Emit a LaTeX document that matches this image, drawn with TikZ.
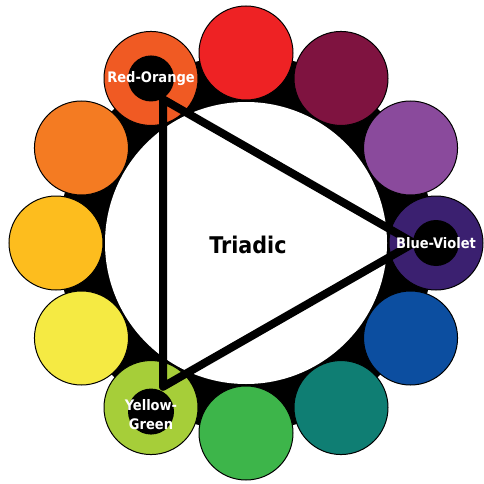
\documentclass[tikz,border=0pt]{standalone}
\usepackage{fontspec}
\setsansfont{DejaVu Sans Condensed}
\usepackage{tikz}
\usetikzlibrary{calc}
\definecolor{cred}{HTML}{EE2224}
\definecolor{credviolet}{HTML}{7F1340}
\definecolor{cviolet}{HTML}{8A4A9C}
\definecolor{cblueviolet}{HTML}{3B2070}
\definecolor{cblue}{HTML}{0C4EA0}
\definecolor{cbluegreen}{HTML}{0F7E73}
\definecolor{cgreen}{HTML}{3DB54A}
\definecolor{cyellowgreen}{HTML}{A6CE39}
\definecolor{cyellow}{HTML}{F5EA43}
\definecolor{cyelloworange}{HTML}{FDBD1E}
\definecolor{corange}{HTML}{F47B22}
\definecolor{credorange}{HTML}{F05A23}
\tikzset{
  hue/.style={circle,draw=black,line width=1pt,minimum size=94pt,inner sep=0pt},
  hole/.style={circle,fill=black,minimum size=46pt,inner sep=0pt},
  tri/.style={line width=8pt,line join=round},
  lbl/.style={text=white,align=center,font=\sffamily\bfseries\fontsize{14.5}{19}\selectfont},
  title/.style={font=\sffamily\bfseries\fontsize{23}{26}\selectfont}
}
\begin{document}
\begin{tikzpicture}[x=1pt,y=1pt]
\useasboundingbox (0,0) rectangle (484,483);
\coordinate (O) at (246,240);

% black ring and white centre
\fill[black] (O) circle (188);
\fill[white] (O) circle (141);

% the twelve hues
\foreach \ang/\col/\nm in {90/cred/red, 60/credviolet/redviolet, 30/cviolet/violet,
  0/cblueviolet/blueviolet, -30/cblue/blue, -60/cbluegreen/bluegreen,
  -90/cgreen/green, -120/cyellowgreen/yellowgreen, -150/cyellow/yellow,
  180/cyelloworange/yelloworange, 150/corange/orange, 120/credorange/redorange}
  \node[hue,fill=\col] (\nm) at ($(O)+(\ang:190)$) {};

% triangle corners
\coordinate (tro) at ($(O)+(120:166)$);
\coordinate (tbv) at ($(O)+(0:168)$);
\coordinate (tyg) at ($(O)+(-120:166)$);
\draw[tri] (tro)--(tbv)--(tyg)--cycle;

% holes and labels
\node[hole] (hro) at (redorange) {};
\node[hole] (hbv) at (blueviolet) {};
\node[hole] (hyg) at ($(yellowgreen)+(0,-4)$) {};
\node[lbl] (lro) at (hro) {Red-Orange};
\node[lbl] (lbv) at (hbv) {Blue-Violet};
\node[lbl] (lyg) at ($(hyg)+(0,-3)$) {Yellow-\\Green};

\node[title] (tt) at (248,238) {Triadic};
\end{tikzpicture}
\end{document}
